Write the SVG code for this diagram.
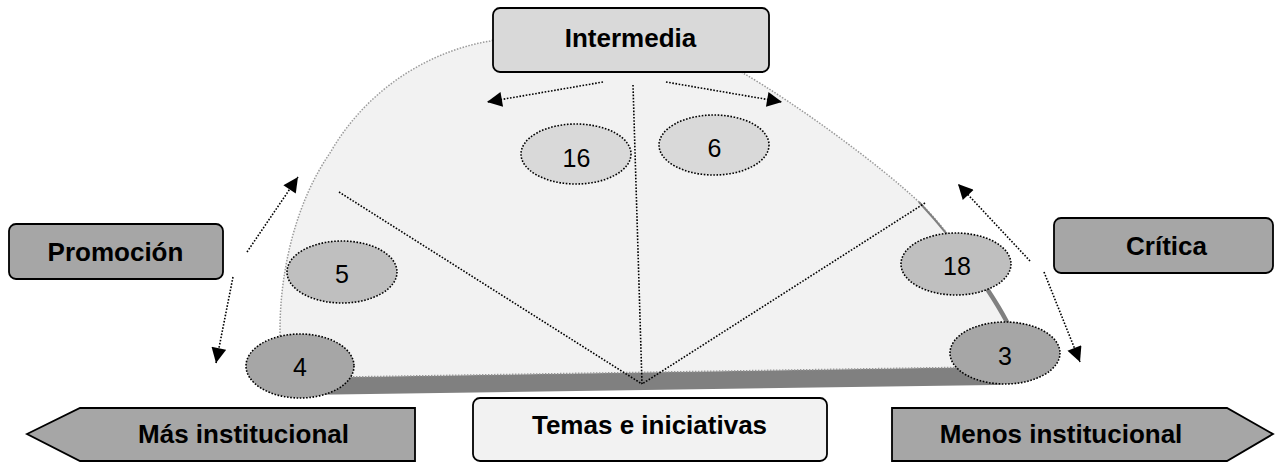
<svg xmlns="http://www.w3.org/2000/svg" width="1275" height="462" viewBox="0 0 1275 462">
<defs>
<style>
.lbl{font-family:"Liberation Sans",Arial,sans-serif;font-weight:bold;font-size:26px;fill:#000;text-anchor:middle}
.num{font-family:"Liberation Sans",Arial,sans-serif;font-size:25px;fill:#000;text-anchor:middle}
.box{stroke:#000;stroke-width:1.8}
.dot{fill:none;stroke:#000;stroke-width:1.6;stroke-dasharray:1.6 1.6}
.conn{fill:none;stroke:#000;stroke-width:1.6;stroke-dasharray:1.6 1.6;marker-end:url(#ah)}
.ell{stroke:#000;stroke-width:1.6;stroke-dasharray:1.6 1.6}
</style>
<marker id="ah" viewBox="0 0 10 10" refX="10" refY="5" markerUnits="userSpaceOnUse" markerWidth="17" markerHeight="15" orient="auto">
<path d="M0,0 L10,5 L0,10 z" fill="#000"/>
</marker>
</defs>
<rect width="1275" height="462" fill="#fff"/>

<g id="pie">
<path d="M282,378 L1045,366 C1030,378 1015,384 995,385 L300,395 Z" fill="#808080"/>
<path d="M280,378 L280,330 C280,270 296,202 330,153 C365,92 425,52 490,41 C548,25 691,43 743,73 C795,103 880,165 920,203 C950,232 990,290 1007,322 C1020,345 1032,358 1045,366 Z" fill="#f2f2f2" stroke="#9a9a9a" stroke-width="1.5" stroke-dasharray="1.5 1.5"/>
<path d="M919,202 C932,216 942,228 950,238" fill="none" stroke="#808080" stroke-width="2"/>
<path d="M950,238 C972,266 992,294 1007,322 C1020,345 1032,358 1045,366" fill="none" stroke="#808080" stroke-width="4.5"/>
<line class="dot" x1="633" y1="85" x2="642" y2="384"/>
<line class="dot" x1="339" y1="192" x2="642" y2="384"/>
<line class="dot" x1="925" y1="203" x2="642" y2="384"/>
</g>

<g id="connectors">
<line class="conn" x1="247" y1="252" x2="298" y2="177"/>
<line class="conn" x1="233" y1="277" x2="216" y2="363"/>
<line class="conn" x1="603" y1="82" x2="487" y2="102"/>
<line class="conn" x1="666" y1="82" x2="782" y2="102"/>
<line class="conn" x1="1030" y1="261" x2="958" y2="184"/>
<line class="conn" x1="1044" y1="272" x2="1080" y2="362"/>
</g>

<g id="n16"><ellipse class="ell" cx="576" cy="154" rx="55" ry="30" fill="#d9d9d9"/><text class="num" x="576.5" y="167">16</text></g>
<g id="n6"><ellipse class="ell" cx="714" cy="145" rx="55" ry="30" fill="#d9d9d9"/><text class="num" x="714.5" y="157">6</text></g>
<g id="n5"><ellipse class="ell" cx="342" cy="272" rx="55" ry="31" fill="#bfbfbf"/><text class="num" x="342" y="283">5</text></g>
<g id="n18"><ellipse class="ell" cx="956" cy="264" rx="55" ry="31" fill="#bfbfbf"/><text class="num" x="957" y="275">18</text></g>
<g id="n4"><ellipse class="ell" cx="300" cy="366" rx="54" ry="32" fill="#a6a6a6"/><text class="num" x="300" y="376">4</text></g>
<g id="n3"><ellipse class="ell" cx="1005" cy="353" rx="55" ry="31" fill="#a6a6a6"/><text class="num" x="1005" y="365">3</text></g>

<g id="intermedia"><rect class="box" x="493" y="8" width="276" height="64" rx="7" fill="#d9d9d9"/><text class="lbl" x="630.5" y="47">Intermedia</text></g>
<g id="promocion"><rect class="box" x="9" y="224" width="214" height="55" rx="7" fill="#a6a6a6"/><text class="lbl" x="115.5" y="261">Promoción</text></g>
<g id="critica"><rect class="box" x="1054" y="218" width="219" height="55" rx="7" fill="#a6a6a6"/><text class="lbl" x="1166.5" y="255">Crítica</text></g>
<g id="temas"><rect class="box" x="473" y="398" width="354" height="63" rx="7" fill="#f2f2f2"/><text class="lbl" x="649.5" y="434">Temas e iniciativas</text></g>
<g id="mas"><polygon class="box" points="27,434 80,408 415,408 415,461 80,461" fill="#a6a6a6"/><text class="lbl" x="243.5" y="443">Más institucional</text></g>
<g id="menos"><polygon class="box" points="892,408 1227,408 1273,434 1227,461 892,461" fill="#a6a6a6"/><text class="lbl" x="1061" y="443">Menos institucional</text></g>
</svg>
